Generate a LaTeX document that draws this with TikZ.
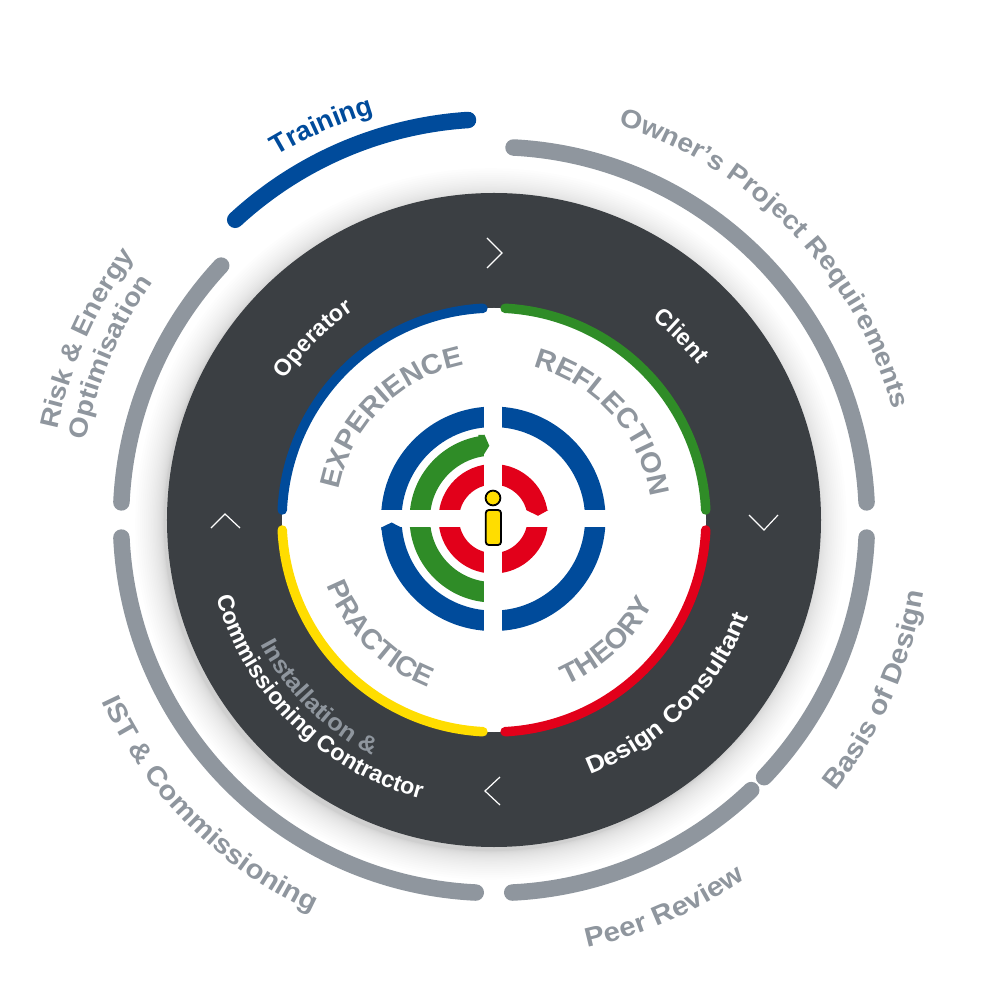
\documentclass[tikz,border=0pt]{standalone}
\usepackage{fontspec}
\setmainfont{Liberation Sans}
\newfontfamily\bst[FakeStretch=1.09]{Liberation Sans Bold}
\newfontfamily\bsu[FakeStretch=1.04]{Liberation Sans Bold}
\usetikzlibrary{decorations.text}
\definecolor{cgray}{HTML}{8F969E}
\definecolor{cdark}{HTML}{3B3F43}
\definecolor{cblue}{HTML}{004B9B}
\definecolor{cgreen}{HTML}{2F8C27}
\definecolor{cred}{HTML}{E2001A}
\definecolor{cyel}{HTML}{FFDD00}
\tikzset{
  outerarc/.style={line width=16.5pt,line cap=round,cgray},
  innerarc/.style={line width=9.5pt,line cap=round},
  chev/.style={white,line width=1.2pt,line join=miter},
  logoring/.style={line width=20.5pt},
}
% clockwise text (tops outward): mid angle, radius, font+colour, text
\newcommand{\cwtext}[4]{\path[decorate,decoration={text along path,text align=center,text={|#3|#4}}]
  (#1+60:#2) arc[start angle=#1+60,end angle=#1-60,radius=#2];}
% counter-clockwise text (tops inward)
\newcommand{\ccwtext}[4]{\path[decorate,decoration={text along path,text align=center,text={|#3|#4}}]
  (#1-60:#2) arc[start angle=#1-60,end angle=#1+60,radius=#2];}
\newcommand{\fa}{\fontsize{27}{27}\selectfont\bst\color{cgray}}
\newcommand{\faa}{\fontsize{26}{26}\selectfont\bst\color{cgray}}
\newcommand{\fb}{\fontsize{27}{27}\selectfont\bfseries\color{cblue}}
\newcommand{\fc}{\fontsize{23.3}{24}\selectfont\bfseries\color{white}}
\newcommand{\fcc}{\fontsize{24}{24}\selectfont\bst\color{white}}
\newcommand{\fd}{\fontsize{23.5}{24}\selectfont\bst\color{cgray}}
\newcommand{\fe}{\fontsize{28}{28}\selectfont\bsu\color{cgray}}
\begin{document}
\begin{tikzpicture}[x=1pt,y=1pt]
\useasboundingbox (-494,-480) rectangle (506,520);
% shadow
\foreach \i in {1,...,24}{
  \fill[black,opacity=0.009] (-3,-4) circle[radius=327+\i*\i/20];
}
\fill[cdark] (0,0) circle[radius=327];
\fill[white] (0,0) circle[radius=212];
% outer arcs
\draw[outerarc] (87:373) arc[start angle=87,end angle=2.7,radius=373];
\draw[outerarc] (-2.7:373) arc[start angle=-2.7,end angle=-43.6,radius=373];
\draw[outerarc] (-46.4:373) arc[start angle=-46.4,end angle=-87.2,radius=373];
\draw[outerarc] (-92.8:373) arc[start angle=-92.8,end angle=-177.3,radius=373];
\draw[outerarc] (177.3:373) arc[start angle=177.3,end angle=137,radius=373];
\begin{scope}[shift={(-1.5,21.4)}]
  \draw[outerarc,cblue] (93.7:379.4) arc[start angle=93.7,end angle=132.7,radius=379.4];
\end{scope}
% inner arcs
\draw[innerarc,cblue] (93:212) arc[start angle=93,end angle=177.3,radius=212];
\draw[innerarc,cgreen] (87:212) arc[start angle=87,end angle=2.7,radius=212];
\draw[innerarc,cred] (-2.7:212) arc[start angle=-2.7,end angle=-87,radius=212];
\draw[innerarc,cyel] (-93:212) arc[start angle=-93,end angle=-177.3,radius=212];
% chevrons
\draw[chev] (-7,282) -- (8,267) -- (-7,252);
\draw[chev] (255,5) -- (270,-10) -- (284,5);
\draw[chev] (6,-257) -- (-9,-271) -- (6,-285);
\draw[chev] (-283,-8) -- (-269,6) -- (-254,-8);
% logo
\begin{scope}[shift={(-0.7,1.2)}]
  \draw[cblue,logoring] (0,0) circle[radius=102];
  \draw[cgreen,logoring] (90:73.5) arc[start angle=90,end angle=270,radius=73.5];
  \draw[cred,logoring] (0,0) circle[radius=44.5];
  \fill[white] (-9,-120) rectangle (8.7,120);
  \fill[white] (-120,-8.7) rectangle (120,8.7);
  \fill[cgreen] (-9,84) -- (-9,84.5) -- (-4,73) -- (-9,65) -- (-15,64) -- (-15,84) -- cycle;
  \fill[cred] (33,8.7) -- (44.7,3) -- (55,8.7) -- (50,10) -- (36,10) -- cycle;
  \fill[cblue] (-112,-8.7) -- (-101.7,-3.7) -- (-92,-8.7) -- (-92,-11) -- (-112,-11) -- cycle;
\end{scope}
\draw[black,fill=cyel,line width=1.8pt] (-1,22) circle[radius=7.4];
\draw[black,fill=cyel,line width=1.8pt,rounded corners=3pt] (-8.2,10) rectangle (7,-25);
% outer labels
\cwtext{44}{414}{\faa}{Owner’s Project Requirements}
\cwtext{113.6}{424}{\fb}{Training}
\cwtext{156}{446}{\faa}{Risk {\&} Energy}
\cwtext{157}{416}{\faa}{Optimisation}
\ccwtext{-24}{436}{\fa}{Basis of Design}
\ccwtext{-66.3}{438}{\fa}{Peer Review}
\ccwtext{-135}{432}{\fa}{IST {\&} Commissioning}
% ring labels
\cwtext{135}{252}{\fc}{Operator}
\cwtext{44.5}{256}{\fc}{Client}
\ccwtext{-45}{272}{\fcc}{Design Consultant}
\ccwtext{-134.6}{288}{\fc}{Commissioning Contractor}
\ccwtext{-134.6}{265}{\fd}{Installation {\&}}
% inner labels
\cwtext{135}{158}{\fe}{EXPERIENCE}
\cwtext{42}{158}{\fe}{REFLECTION}
\ccwtext{-47}{180}{\fe}{THEORY}
\ccwtext{-135}{180}{\fe}{PRACTICE}
\end{tikzpicture}
\end{document}
